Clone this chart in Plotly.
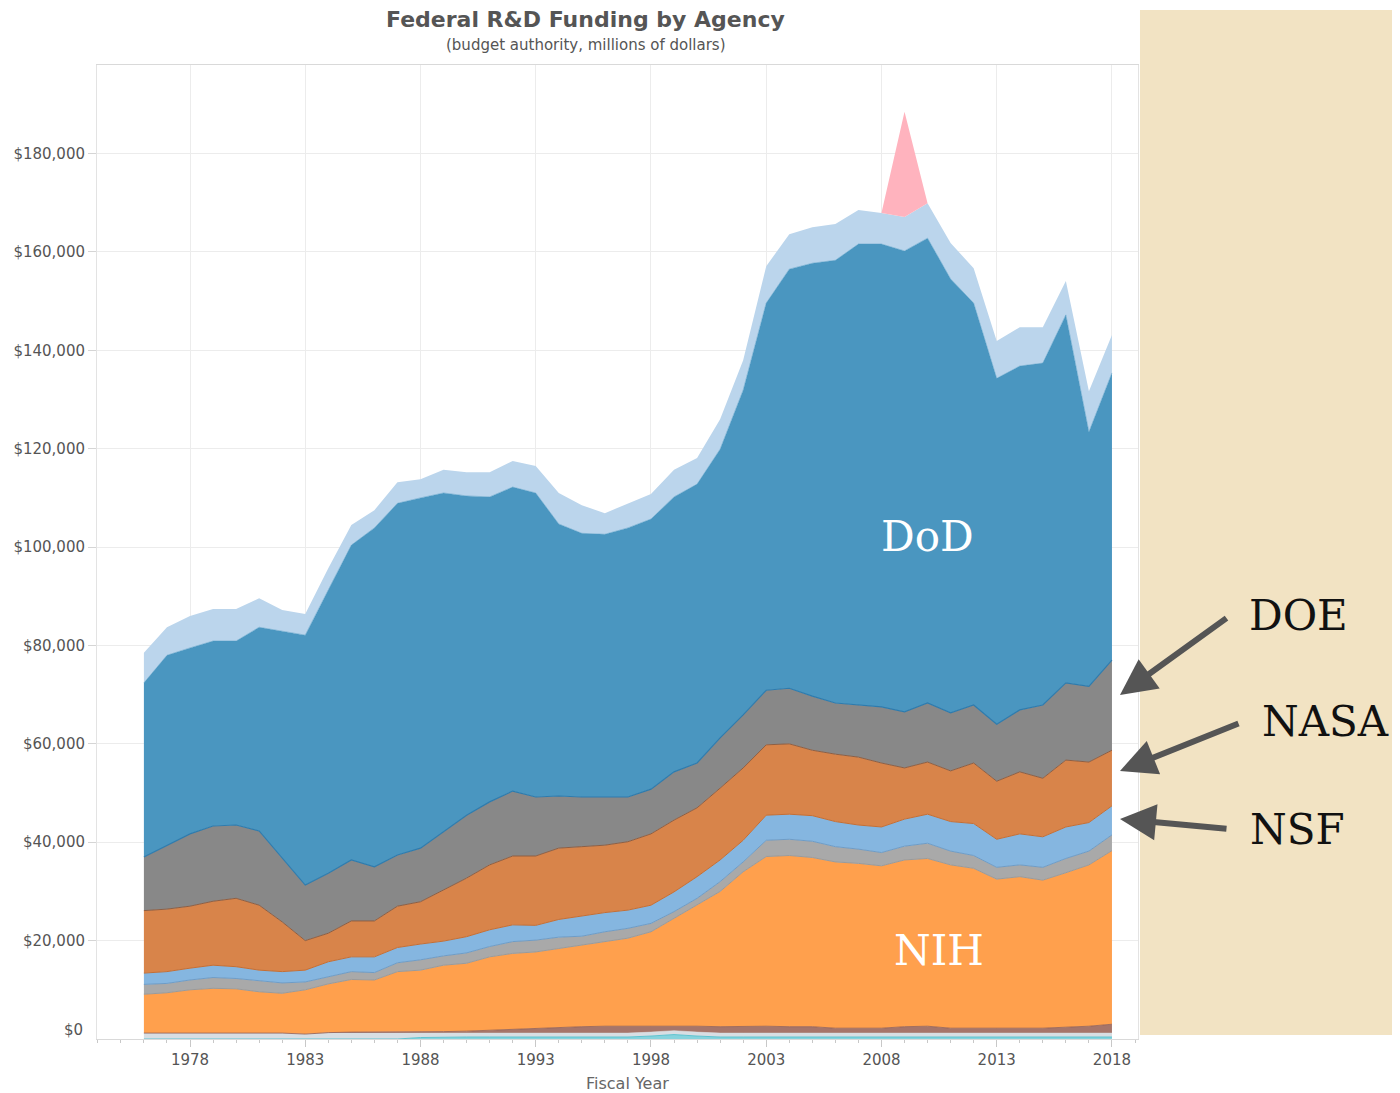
import plotly.graph_objects as go

years = list(range(1976, 2019))

# Values in millions of dollars, stacked bottom -> top
teal_small = [0, 0, 0, 0, 0, 0, 0, 0, 0, 0, 0, 0,
              300, 400, 400, 400, 400, 400, 400, 400, 400, 400, 600, 900, 600,
              400, 400, 400, 400, 400, 400, 400, 400, 400, 400, 400, 400, 400, 400, 400, 400, 400, 400]
lightgray_small = [1200, 1200, 1200, 1200, 1200, 1200, 1200, 1000, 1200, 1200, 1200, 1200,
                   800, 800, 800, 800, 800, 800, 800, 800, 800, 800, 800, 800, 800,
                   800, 800, 800, 800, 800, 800, 800, 800, 800, 800, 800, 800, 800, 800, 800, 800, 800, 800]
brown_small = [0, 0, 0, 0, 0, 0, 0, 0, 100, 200, 200, 300,
               400, 300, 400, 600, 800, 900, 1100, 1300, 1400, 1400, 1200, 1000, 1200,
               1300, 1400, 1400, 1300, 1300, 1000, 1000, 1000, 1300, 1400, 1000, 1000, 1000, 1000, 1000, 1200, 1400, 1800]
nih = [7900, 8200, 8800, 9100, 9000, 8400, 8100, 9000, 9900, 10700,
       10600, 12200, 12500, 13500, 13800, 14900, 15400, 15600, 16100, 16600,
       17200, 17900, 19200, 21800, 24600, 27500, 31400, 34500, 34800, 34400,
       33800, 33500, 33000, 33900, 34100, 33200, 32500, 30300, 30800, 30100,
       31400, 32800, 35300]
gray_small = [2000, 1900, 2000, 2200, 2100, 2300, 2100, 1600, 1500, 1600,
              1500, 1800, 2100, 1900, 2100, 2100, 2400, 2400, 2300, 1800,
              2000, 2000, 1700, 1400, 1400, 2000, 2000, 3300, 3300, 3300,
              3100, 2900, 2700, 2800, 3100, 2800, 2600, 2400, 2400, 2600,
              2900, 2800, 3200]
nsf = [2300, 2400, 2400, 2500, 2400, 2100, 2300, 2400, 3000, 3000,
       3200, 3100, 3200, 3000, 3300, 3400, 3400, 3000, 3600, 4100,
       3900, 3700, 3700, 4000, 4400, 4400, 4400, 5100, 5100, 5200,
       5100, 4900, 5200, 5500, 5900, 6000, 6500, 5700, 6300, 6200,
       6400, 5800, 5900]
nasa = [12700, 12700, 12600, 13000, 13900, 13200, 10100, 6000, 5800, 7300,
        7300, 8400, 8600, 10400, 11900, 13200, 14000, 14100, 14500, 14100,
        13700, 13900, 14500, 14600, 14000, 14600, 14700, 14300, 14300, 13300,
        13700, 13800, 13000, 10400, 10600, 10300, 12300, 11800, 12600, 11900,
        13600, 12300, 11300]
doe = [10900, 13000, 14700, 15300, 14900, 15100, 13000, 11300, 12200, 12400,
       11000, 10400, 10900, 11800, 12800, 12800, 13200, 12000, 10600, 10100,
       9800, 9100, 9100, 9800, 9100, 10200, 10800, 11100, 11300, 11000,
       10400, 10600, 11400, 11400, 12000, 11800, 11800, 11600, 12600, 14900,
       15700, 15400, 18300]
dod = [35400, 38600, 37800, 37600, 37400, 41400, 46100, 50800, 57600, 64000,
       68900, 71500, 71200, 68900, 64900, 62000, 61800, 61800, 55300, 53600,
       53400, 54700, 54900, 55900, 56700, 58700, 66000, 78700, 85200, 88000,
       90000, 93700, 94100, 93700, 94500, 88200, 81700, 70300, 69900, 69500,
       74800, 51700, 58400]
all_other = [6100, 5700, 6500, 6500, 6500, 5900, 4300, 4300, 4400, 4100,
             3600, 4300, 3800, 4700, 4800, 5000, 5300, 5500, 6300, 5700,
             4300, 5000, 5100, 5500, 5300, 6100, 6100, 7500, 7100, 7300,
             7400, 6900, 6300, 6900, 7100, 7300, 7100, 7600, 7900, 7300,
             6900, 8300, 7700]
recovery_act = [0, 0, 0, 0, 0, 0, 0, 0, 0, 0,
                0, 0, 0, 0, 0, 0, 0, 0, 0, 0,
                0, 0, 0, 0, 0, 0, 0, 0, 0, 0,
                0, 0, 0, 21400, 0, 0, 0, 0, 0, 0,
                0, 0, 0]

y_tick_values = [20000, 40000, 60000, 80000, 100000, 120000, 140000, 160000, 180000]
y_tick_labels = ["$20,000", "$40,000", "$60,000", "$80,000", "$100,000",
                 "$120,000", "$140,000", "$160,000", "$180,000"]

series = [
    ("Other (teal)", teal_small, "#86D3DD", "#5EC3D0", 1.0),
    ("Other (light gray)", lightgray_small, "#D8DEE3", "#D8DEE3", 0.5),
    ("Other (brown)", brown_small, "#A6756A", "#8F5E55", 0.8),
    ("NIH", nih, "#FFA04D", "#9A9A9A", 1.0),
    ("Other (gray)", gray_small, "#A9A9A9", "#6E9CC6", 1.0),
    ("NSF", nsf, "#85B6E0", "#C26E36", 1.0),
    ("NASA", nasa, "#D8844A", "#8E5E42", 1.0),
    ("DOE", doe, "#888888", "#2E7BAD", 1.2),
    ("DoD", dod, "#4A96C0", "#4A96C0", 0.5),
    ("All other", all_other, "#BBD5EC", "#BBD5EC", 0),
    ("Recovery Act", recovery_act, "#FFB3BE", "#FFB3BE", 0),
]

fig = go.Figure()
for name, vals, fc, lc, lw in series:
    fig.add_trace(go.Scatter(
        x=years, y=vals, name=name, mode="lines", stackgroup="one",
        fillcolor=fc, line=dict(color=lc, width=lw, shape="linear"),
        hovertemplate="%{x}: $%{y:,}<extra>" + name + "</extra>",
    ))

font_family = "DejaVu Sans, Liberation Sans, Arial, sans-serif"
serif = "DejaVu Serif, Liberation Serif, serif"

# The page body has an 8px margin, so the figure is 8px smaller in each direction
fig.update_layout(
    width=1392, height=1085,
    margin=dict(l=89, r=262, t=57, b=54, autoexpand=False),
    paper_bgcolor="white", plot_bgcolor="white",
    showlegend=False,
    font=dict(family=font_family, color="#555555"),
    xaxis=dict(
        range=[1973.965, 2019.13], tick0=1978, dtick=5, tickmode="linear",
        ticks="outside", ticklen=7, tickcolor="#C8C8C8", tickwidth=1,
        minor=dict(dtick=1, tick0=1976, ticks="outside", ticklen=3, tickcolor="#C8C8C8", showgrid=False),
        showgrid=True, gridcolor="#ECECEC", gridwidth=1,
        showline=True, linecolor="#D9D9D9", linewidth=1, mirror=True,
        tickfont=dict(size=15, color="#555555", family=font_family),
        zeroline=False, automargin=False,
    ),
    yaxis=dict(
        range=[0, 198000], tickmode="array", tickvals=y_tick_values, ticktext=y_tick_labels,
        ticks="outside", ticklen=8, tickcolor="#D5D5D5",
        showgrid=True, gridcolor="#ECECEC", gridwidth=1,
        showline=True, linecolor="#E3E3E3", linewidth=1, mirror=True,
        tickfont=dict(size=15, color="#555555", family=font_family),
        zeroline=False, automargin=False,
    ),
    shapes=[dict(type="rect", xref="paper", yref="paper",
                 x0=1.0019, x1=1.26, y0=0.0041, y1=1.0565,
                 fillcolor="#F2E3C3", line=dict(width=0), layer="below")],
)

annotations = [
    dict(text="<b>Federal R&D Funding by Agency</b>", xref="paper", yref="paper",
         x=0.4697, y=1.0472, xanchor="center", yanchor="middle", showarrow=False,
         font=dict(size=22, color="#555555", family=font_family)),
    dict(text="(budget authority, millions of dollars)", xref="paper", yref="paper",
         x=0.4697, y=1.0205, xanchor="center", yanchor="middle", showarrow=False,
         font=dict(size=15, color="#555555", family=font_family)),
    dict(text="Fiscal Year", xref="paper", yref="paper",
         x=0.51, y=-0.0462, xanchor="center", yanchor="middle", showarrow=False,
         font=dict(size=16, color="#666666", family=font_family)),
    dict(text="$0", xref="paper", yref="paper",
         x=-0.0115, y=0.0092, xanchor="right", yanchor="middle", showarrow=False,
         font=dict(size=15, color="#555555", family=font_family)),
    dict(text="DoD", x=2010.0, y=102200, xref="x", yref="y", showarrow=False,
         xanchor="center", yanchor="middle", font=dict(size=42, color="white", family=serif)),
    dict(text="NIH", x=2010.5, y=17900, xref="x", yref="y", showarrow=False,
         xanchor="center", yanchor="middle", font=dict(size=42, color="white", family=serif)),
    dict(text="DOE", xref="paper", yref="paper", x=1.1047, y=0.4343, xanchor="left",
         yanchor="middle", showarrow=False, font=dict(size=42, color="#111111", family=serif)),
    dict(text="NASA", xref="paper", yref="paper", x=1.1172, y=0.3255, xanchor="left",
         yanchor="middle", showarrow=False, font=dict(size=42, color="#111111", family=serif)),
    dict(text="NSF", xref="paper", yref="paper", x=1.1057, y=0.2156, xanchor="left",
         yanchor="middle", showarrow=False, font=dict(size=42, color="#111111", family=serif)),
]
# Arrows (tip at chart edge, tail near label)
for tip_y, ax, ay in [(0.3532, 108, -78), (0.2752, 120, -48), (0.2259, 108, 10)]:
    annotations.append(dict(
        text="", xref="paper", yref="paper", x=0.9827, y=tip_y,
        ax=ax, ay=ay, axref="pixel", ayref="pixel",
        showarrow=True, arrowhead=2, arrowwidth=6, arrowsize=1.2, arrowcolor="#555555",
    ))

fig.update_layout(annotations=annotations)
fig.write_html("out.html")
